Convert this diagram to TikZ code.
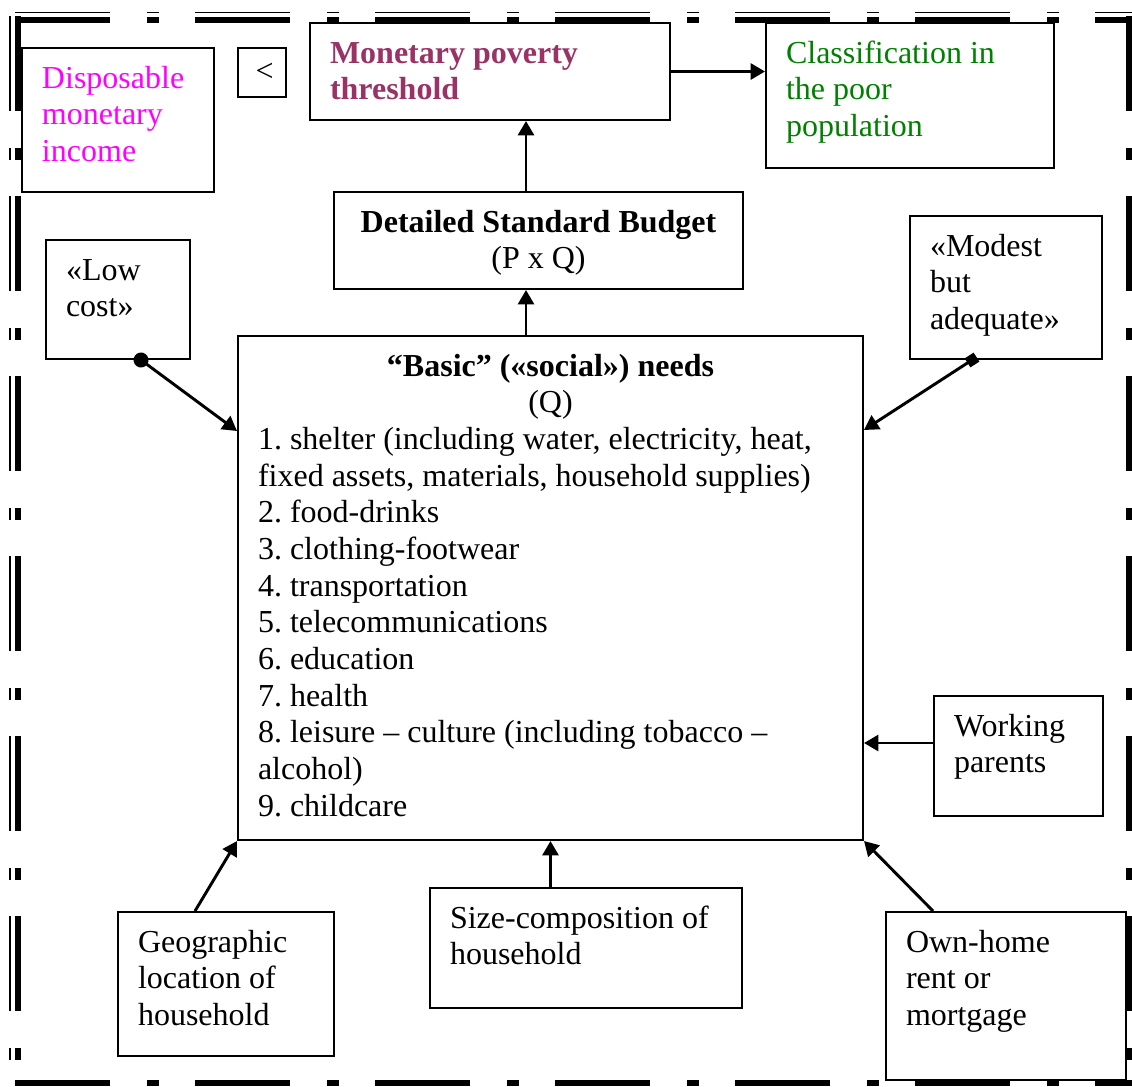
\documentclass[tikz,border=0pt]{standalone}
\usepackage{fontspec}
\setmainfont{Liberation Serif}
\usetikzlibrary{arrows.meta,calc}
\definecolor{incomeMagenta}{RGB}{255,0,255}
\definecolor{thresholdPlum}{RGB}{153,51,102}
\definecolor{classGreen}{RGB}{0,128,0}
\frenchspacing
\newdimen\pxu \pxu=0.375pt
% text body of a box: outer width, outer height (px), content
\newcommand{\boxbody}[3]{\parbox[t][\dimexpr #2\pxu-7.5pt\relax][t]{\dimexpr #1\pxu-15pt\relax}{\raggedright\rule{0pt}{11.25pt}#3}}

\begin{document}
\begin{tikzpicture}[
  x=0.375pt, y=-0.375pt,
  every node/.style={font=\fontsize{12}{13.75}\selectfont},
  tbox/.style={draw, line width=0.75pt, anchor=north west,
               inner xsep=7.5pt, inner ysep=3.75pt},
  conn/.style={line width=1.1pt, -{Triangle[length=5.4pt,width=6pt]}},
  frame/.style={line width=2.25pt,
                dash pattern=on 35.6pt off 13.9pt on 4.5pt off 13.5pt},
  frameThin/.style={frame, line width=0.6pt},
]
\useasboundingbox (0,0) rectangle (1132,1086);

% Outer dash-dot frame
\draw[frame] (15,19.5) -- (1132,19.5);
\draw[frame] (1129,16) -- (1129,1086);
\draw[frame] (15,1083) -- (1132,1083);
\draw[frame] (18,16) -- (18,1086);
\draw[frameThin] (15,12.5) -- (1132,12.5);
\draw[frameThin] (10,16) -- (10,1086);

% Top row: income < threshold -> classification
\node[tbox] (disp) at (21,47)
  {\boxbody{192}{144}{\color{incomeMagenta}Disposable\\monetary\\income}};
\node[draw, line width=0.75pt, anchor=north west, inner sep=0pt,
      minimum width=18pt, minimum height=18.4pt] (lt) at (237,47)
  {\hspace{2pt}<};
\node[tbox] (thr) at (309,22)
  {\boxbody{360}{97}{\color{thresholdPlum}\bfseries Monetary poverty\\threshold}};
\node[tbox] (cls) at (765,22)
  {\boxbody{288}{145}{\color{classGreen}Classification in\\the poor\\population}};

% Budget and needs
\node[tbox] (bud) at (333,191)
  {\boxbody{409}{97}{{\centering\textbf{Detailed Standard Budget}\\(P x Q)\par}}};
\node[tbox] (needs) at (237,335)
  {\boxbody{625}{504}{{\centering\textbf{“Basic” («social») needs}\\(Q)\par}%
   1. shelter (including water, electricity, heat,\\
   fixed assets, materials, household supplies)\\
   2. food-drinks\\
   3. clothing-footwear\\
   4. transportation\\
   5. telecommunications\\
   6. education\\
   7. health\\
   8. leisure – culture (including tobacco –\\
   alcohol)\\
   9. childcare}};

% Side factors
\node[tbox] (low) at (45,239) {\boxbody{144}{119}{«Low\\cost»}};
\node[tbox] (mod) at (909,215) {\boxbody{192}{143}{«Modest\\but\\adequate»}};
\node[tbox] (work) at (933,695) {\boxbody{169}{120}{Working\\parents}};

% Bottom factors
\node[tbox] (geo) at (117,911) {\boxbody{216}{144}{Geographic\\location of\\household}};
\node[tbox] (size) at (429,887) {\boxbody{312}{120}{Size-composition of\\household}};
\node[tbox] (own) at (885,911) {\boxbody{240}{168}{Own-home\\rent or\\mortgage}};

% Connectors
\coordinate (ax) at (526,0);
\draw[conn] (thr.east) -- (thr.east -| cls.west);
\draw[conn] (bud.north -| ax) -- (thr.south -| ax);
\draw[conn] (needs.north -| ax) -- (bud.south -| ax);
\draw[conn, {Circle[length=5.6pt]}-{Triangle[length=5.4pt,width=6pt]},
      shorten <=-2.8pt]
  ($(low.south west)+(96,0)$) -- ($(needs.north west)+(0,96)$);
\draw[conn, {Square[length=4pt]}-{Triangle[length=5.4pt,width=6pt]},
      shorten <=-2pt]
  ($(mod.south west)+(63,0)$) -- ($(needs.north east)+(0,95)$);
\coordinate (wk) at ($(work.north west)+(0,48)$);
\draw[conn] (wk) -- (wk -| needs.east);
\draw[conn] ($(geo.north west)+(78,0)$) -- (needs.south west);
\draw[conn] (size.north -| needs.south) -- (needs.south);
\draw[conn] ($(own.north west)+(48,0)$) -- (needs.south east);
\end{tikzpicture}
\end{document}
